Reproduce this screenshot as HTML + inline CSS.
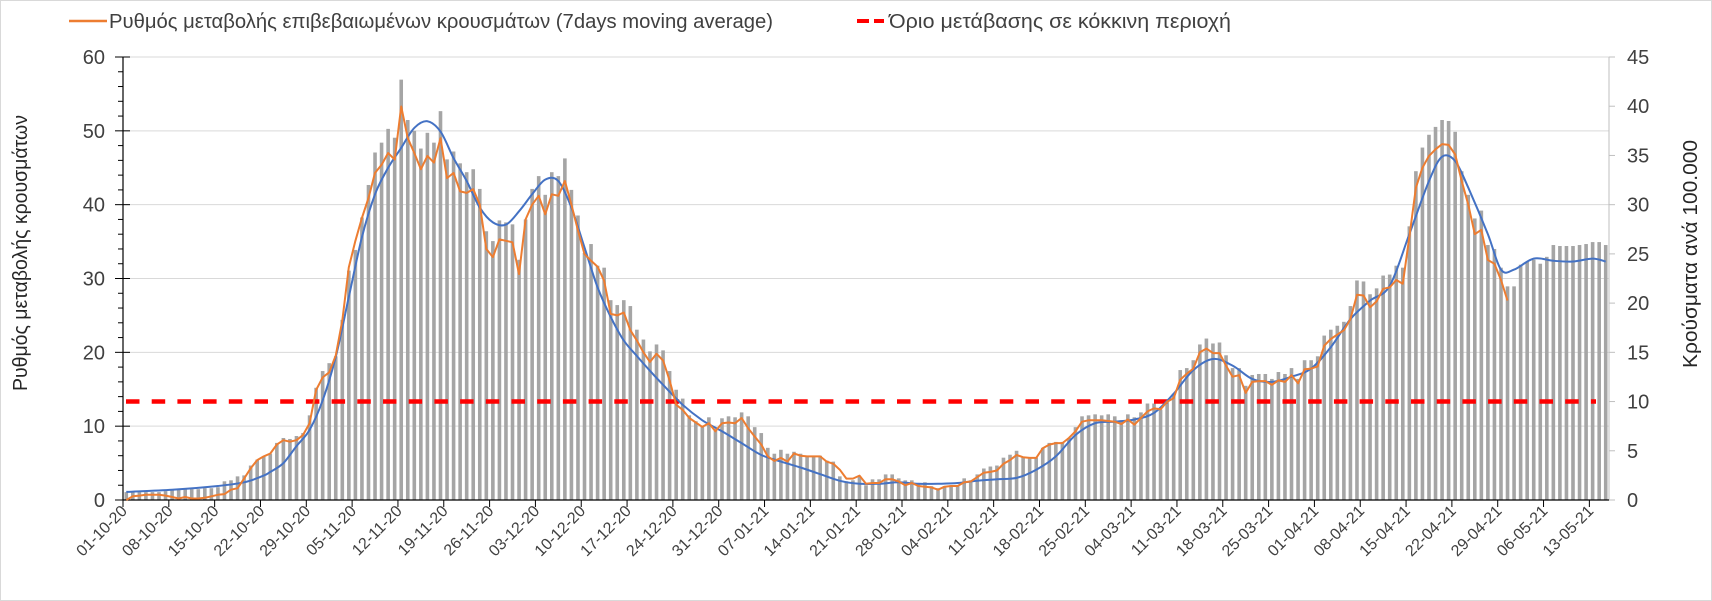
<!DOCTYPE html>
<html><head><meta charset="utf-8"><style>
html,body{margin:0;padding:0;background:#fff;}
svg{display:block;font-family:"Liberation Sans",Arial,sans-serif;}
</style></head><body>
<svg id="chart" width="1712" height="601" viewBox="0 0 1712 601" xmlns="http://www.w3.org/2000/svg">
<rect x="0.5" y="0.5" width="1711" height="600" fill="#fff" stroke="#d9d9d9"/>
<g id="grid"></g>
<g id="bars"></g>
<g id="axes"></g>
<g id="lines"></g>
<g>
  <line x1="69" y1="21" x2="107" y2="21" stroke="#ed7d31" stroke-width="2.5"/>
  <text x="109" y="28" font-size="20" fill="#404040" textLength="664" lengthAdjust="spacingAndGlyphs">Ρυθμός μεταβολής επιβεβαιωμένων κρουσμάτων (7days moving average)</text>
  <line x1="857" y1="21" x2="884" y2="21" stroke="#ff0000" stroke-width="4" stroke-dasharray="12,5"/>
  <text x="889" y="28" font-size="20" fill="#404040" textLength="342" lengthAdjust="spacingAndGlyphs">Όριο μετάβασης σε κόκκινη περιοχή</text>
</g>
<text transform="translate(27,253) rotate(-90)" text-anchor="middle" font-size="20" fill="#262626" textLength="276" lengthAdjust="spacingAndGlyphs">Ρυθμός μεταβολής κρουσμάτων</text>
<text transform="translate(1697,254) rotate(-90)" text-anchor="middle" font-size="20" fill="#262626" textLength="228" lengthAdjust="spacingAndGlyphs">Κρούσματα ανά 100.000</text>
</svg>
<script>
const xLabels = ["01-10-20","08-10-20","15-10-20","22-10-20","29-10-20","05-11-20","12-11-20","19-11-20","26-11-20","03-12-20","10-12-20","17-12-20","24-12-20","31-12-20","07-01-21","14-01-21","21-01-21","28-01-21","04-02-21","11-02-21","18-02-21","25-02-21","04-03-21","11-03-21","18-03-21","25-03-21","01-04-21","08-04-21","15-04-21","22-04-21","29-04-21","06-05-21","13-05-21"];
const leftTicks = [0,10,20,30,40,50,60];
const rightTicks = [0,5,10,15,20,25,30,35,40,45];
const thresholdRight = 10;
// daily cases per 100.000 (right axis), 01-10-20 .. 15-05-21
const casesBars = [
0.8,0.8,0.8,0.8,0.8,0.8,0.9,1.1,1.1,1.1,1.1,1.1,1.2,1.2,1.3,1.9,2.0,2.4,2.5,3.5,4.1,4.4,4.7,5.8,6.3,6.2,6.5,
6.8,8.6,11.4,13.1,13.9,14.6,18.3,23.3,25.4,28.7,32.0,35.3,36.3,37.7,36.8,42.7,38.6,37.5,35.7,37.3,36.3,39.5,34.6,35.4,34.2,
33.3,33.6,31.6,27.3,26.3,28.4,28.2,28.0,24.4,28.5,31.6,32.9,31.0,33.3,32.9,34.7,31.5,28.9,25.1,26.0,23.8,23.6,20.3,19.8,20.3,
19.7,17.3,16.3,15.1,15.8,15.2,13.1,11.2,10.3,8.6,8.0,7.5,8.4,7.2,8.3,8.5,8.4,8.9,8.5,7.4,6.8,5.3,4.7,5.1,4.7,
4.9,4.7,4.5,4.5,4.5,4.0,3.9,
2.4,1.9,2.0,2.4,1.5,2.1,2.1,2.6,2.6,2.2,2.0,2.0,1.7,1.8,1.4,1.2,1.4,1.5,1.5,2.2,2.0,2.6,3.2,3.4,3.5,4.3,4.6,5.0,4.4,4.3,4.3,5.3,5.8,5.9,5.9,6.3,7.4,8.5,8.6,8.7,8.6,8.7,8.5,8.1,8.7,8.4,8.9,9.8,
9.8,9.2,10.1,10.8,13.2,13.4,14.2,15.8,16.4,15.9,16.0,14.7,13.4,13.4,11.6,12.7,12.8,12.8,12.3,13.0,12.8,13.4,12.3,14.2,14.2,14.6,16.7,17.3,17.7,18.1,19.7,22.3,22.2,20.9,21.5,22.8,22.9,23.8,23.6,27.8,33.4,35.8,37.1,37.9,38.6,38.5,
37.4,33.4,31.0,28.6,29.4,25.9,25.5,23.6,21.7,21.7,23.9,24.2,24.4,24.0,24.7,25.9,25.8,25.8,25.8,25.9,26.0,26.2,26.2,25.9];
// 7-day moving average rate of change (left axis)
const rateSeries = [
0.0,0.5,0.6,0.7,0.7,0.7,0.6,0.4,0.2,0.4,0.2,0.2,0.3,0.5,0.7,0.8,1.4,1.6,2.9,
4.3,5.4,5.9,6.3,7.5,8.1,7.9,8.1,8.8,
10.4,14.9,16.6,17.3,19.6,24.3,31.5,35.1,38.2,40.9,44.3,45.4,47.0,46.1,53.3,49.0,47.0,44.8,46.6,45.7,49.0,43.6,44.3,41.8,41.6,42.1,40.0,34.0,32.9,35.3,35.1,34.9,30.6,38.0,40.0,41.2,38.7,41.4,41.2,43.2,40.0,36.5,33.3,32.4,31.6,29.7,25.2,25.0,25.4,23.0,21.6,
20.0,18.7,19.8,18.9,16.2,12.9,12.2,11.1,10.5,9.9,10.4,9.3,10.4,10.5,10.4,11.1,9.7,8.6,7.5,5.9,5.3,5.7,5.2,6.3,6.0,5.9,5.9,5.9,
5.2,4.9,4.1,2.9,2.9,3.3,2.2,2.3,2.3,2.8,2.8,2.5,2.0,2.3,1.9,1.8,1.7,1.4,1.8,1.9,1.9,2.4,2.5,3.1,3.7,3.8,4.0,4.9,5.4,6.1,5.8,5.7,5.7,7.0,7.5,7.7,7.7,8.4,9.3,10.6,10.8,10.8,10.8,10.7,10.6,10.3,10.9,10.2,11.1,12.0,
12.4,12.3,13.3,13.8,16.3,17.1,17.8,20.0,20.5,19.9,19.9,18.2,16.7,16.9,14.5,16.0,16.1,16.1,15.6,16.2,16.0,16.9,15.8,17.7,17.8,18.1,20.9,21.8,22.4,23.0,24.5,27.8,27.7,26.1,26.9,28.6,28.8,29.8,29.3,35.6,42.3,45.0,46.6,47.5,48.2,48.1,46.8,43.2,40.0,36.0,36.6,32.5,32.0,29.8,27.0];
// trend line (left axis): day index and value
const trendDays = [0,7,14,18,21,22,24,26,28,30,32,34,36,38,40,42,44,46,48,50,52,54,56,58,60,62,64,66,68,70,72,74,76,78,80,82,85,88,91,94,97,100,103,106,109,112,115,118,121,124,127,130,133,136,139,142,145,148,151,154,157,160,163,166,169,172,175,178,181,184,187,190,193,196,199,201,203,205,208,210,212,215,218,221,224,226];
const trendValues = [1.1,1.4,1.9,2.4,3.3,3.8,5.0,7.3,9.5,13.5,19.4,27.5,35.6,41.4,45.0,47.7,50.4,51.3,49.9,46.3,43.2,39.6,37.6,37.3,39.1,41.4,43.4,43.2,39.6,34.2,28.8,24.8,21.6,19.5,17.5,15.6,12.9,10.8,9.3,7.7,6.1,5.2,4.4,3.5,2.6,2.2,2.2,2.4,2.2,2.2,2.3,2.6,2.8,3.0,4.1,5.9,8.8,10.4,10.6,10.9,11.8,14.4,17.6,19.1,18.2,16.4,16.0,16.7,17.8,20.7,24.5,27.0,29.0,36.0,43.2,46.5,45.9,42.3,36.0,31.2,31.2,32.7,32.4,32.3,32.7,32.3];

const NS = "http://www.w3.org/2000/svg";
const X0 = 123, X1 = 1609, Y0 = 500, YT = 57;
const N = casesBars.length;
const band = (X1 - X0) / N;
const xEdge = d => X0 + d * band;
const xC = d => X0 + (d + 0.5) * band;
const yL = v => Y0 - v * (Y0 - YT) / 60;
const yR = v => Y0 - v * (Y0 - YT) / 45;
function mk(tag, attrs, parent) {
  const e = document.createElementNS(NS, tag);
  for (const k in attrs) e.setAttribute(k, attrs[k]);
  parent.appendChild(e);
  return e;
}
const grid = document.getElementById('grid');
const axes = document.getElementById('axes');
const barsG = document.getElementById('bars');
const linesG = document.getElementById('lines');

leftTicks.forEach(t => {
  if (t > 0) {
    const g = mk('line', {x1: X0, x2: X1, y1: yL(t), y2: yL(t), stroke: '#d9d9d9', 'stroke-width': 1}, grid);
    
    
  }
  const tk = mk('line', {x1: X0 - 8, x2: X0 + 7, y1: yL(t), y2: yL(t), stroke: '#000', 'stroke-width': 1}, axes);
  
  
  const lb = mk('text', {x: X0 - 18, y: yL(t) + 7, 'text-anchor': 'end', 'font-size': 20, fill: '#404040'}, axes);
  lb.textContent = t;
  
  
});
for (let v = 2; v < 60; v += 2) {
  if (v % 10 === 0) continue;
  const m = mk('line', {x1: X0 - 5, x2: X0, y1: yL(v), y2: yL(v), stroke: '#000', 'stroke-width': 1}, axes);
  
  
}
rightTicks.forEach(t => {
  const tk = mk('line', {x1: X1, x2: X1 + 6, y1: yR(t), y2: yR(t), stroke: '#bfbfbf', 'stroke-width': 1}, axes);
  
  
  const lb = mk('text', {x: X1 + 18, y: yR(t) + 7, 'font-size': 20, fill: '#404040'}, axes);
  lb.textContent = t;
  
  
});

casesBars.forEach((v, i) => {
  const h = Y0 - yR(v);
  const r = mk('rect', {x: xC(i) - 1.8, y: yR(v), width: 3.6, height: Math.max(h, 0), fill: '#a5a5a5'}, barsG);
  
  
});

const la = mk('line', {x1: X0, x2: X0, y1: YT, y2: Y0, stroke: '#000', 'stroke-width': 1.2}, axes);


const ra = mk('line', {x1: X1, x2: X1, y1: YT, y2: Y0, stroke: '#bfbfbf', 'stroke-width': 1}, axes);


const xa = mk('line', {x1: X0, x2: X1, y1: Y0, y2: Y0, stroke: '#000', 'stroke-width': 1.2}, axes);


xLabels.forEach((lab, k) => {
  const x = xEdge(k * 7);
  const tk = mk('line', {x1: x, x2: x, y1: Y0, y2: Y0 + 7, stroke: '#000', 'stroke-width': 1}, axes);
  
  
  const t = mk('text', {transform: 'translate(' + (x + 5) + ',' + (Y0 + 12) + ') rotate(-45)', 'text-anchor': 'end', 'font-size': 16, fill: '#404040'}, axes);
  t.textContent = lab;
  
  
});

// threshold
const th = mk('line', {x1: X0 + 3, x2: 1596, y1: yR(thresholdRight), y2: yR(thresholdRight), stroke: '#ff0000', 'stroke-width': 4.5, 'stroke-dasharray': '13.5,12.2'}, linesG);



// trend (smooth)
const pts = trendDays.map((d, i) => [xC(d), yL(trendValues[i])]);
let dp = 'M' + pts[0][0].toFixed(1) + ',' + pts[0][1].toFixed(1);
for (let i = 0; i < pts.length - 1; i++) {
  const p0 = pts[Math.max(i - 1, 0)], p1 = pts[i], p2 = pts[i + 1], p3 = pts[Math.min(i + 2, pts.length - 1)];
  const c1 = [p1[0] + (p2[0] - p0[0]) / 6, p1[1] + (p2[1] - p0[1]) / 6];
  const c2 = [p2[0] - (p3[0] - p1[0]) / 6, p2[1] - (p3[1] - p1[1]) / 6];
  dp += ' C' + c1[0].toFixed(1) + ',' + c1[1].toFixed(1) + ' ' + c2[0].toFixed(1) + ',' + c2[1].toFixed(1) + ' ' + p2[0].toFixed(1) + ',' + p2[1].toFixed(1);
}
const tr = mk('path', {d: dp, fill: 'none', stroke: '#4472c4', 'stroke-width': 2}, linesG);



// rate line
const rp = rateSeries.map((v, i) => (i ? 'L' : 'M') + xC(i).toFixed(1) + ',' + yL(v).toFixed(1)).join(' ');
const rl = mk('path', {d: rp, fill: 'none', stroke: '#ed7d31', 'stroke-width': 2, 'stroke-linejoin': 'round'}, linesG);


</script>
</body></html>
